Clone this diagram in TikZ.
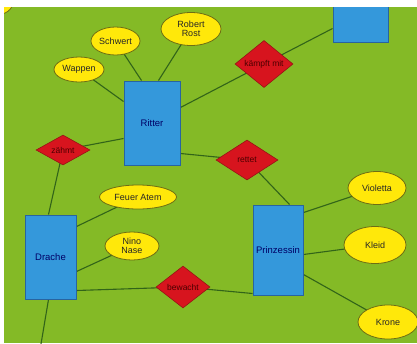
\documentclass[tikz,border=0pt]{standalone}
\usepackage{fontspec}
\setmainfont{Liberation Sans}
\usetikzlibrary{shapes.geometric,calc}
\pgfdeclarelayer{bg}
\pgfdeclarelayer{edges}
\pgfsetlayers{bg,edges,main}
\definecolor{grass}{RGB}{132,186,38}
\definecolor{boxblue}{RGB}{52,152,219}
\definecolor{boxedge}{RGB}{40,100,160}
\definecolor{ellfill}{RGB}{255,232,10}
\definecolor{elledge}{RGB}{110,110,20}
\definecolor{relfill}{RGB}{215,20,30}
\definecolor{reledge}{RGB}{150,20,20}
\definecolor{linegreen}{RGB}{50,100,25}
\tikzset{
  entity/.style={draw=boxedge, fill=boxblue, line width=1pt, inner sep=0pt, font=\fontsize{9.5}{10}\selectfont, text=blue!40!black},
  attr/.style={ellipse, draw=elledge, fill=ellfill, line width=0.8pt, inner sep=0pt, align=center, font=\fontsize{9}{9.5}\selectfont, text=black!85},
  rel/.style={diamond, draw=reledge, fill=relfill, line width=0.6pt, inner sep=0pt, font=\fontsize{8.5}{9}\selectfont, text=red!30!black},
  conn/.style={draw=linegreen, line width=1.1pt}
}
\begin{document}
\begin{tikzpicture}[x=1pt,y=-1pt]
\useasboundingbox (0,0) rectangle (417,343);
\begin{pgfonlayer}{bg}
\fill[white] (0,0) rectangle (417,343);
\fill[grass] (4,7) rectangle (417,343);
\end{pgfonlayer}
\begin{scope}
\clip (4,7) rectangle (417,343);
% entities
\node[entity, minimum width=56pt, minimum height=84pt] (Ritter) at (152,123) {Ritter};
\node[entity, minimum width=55pt, minimum height=52pt] (tr) at (360.5,16) {};
\node[entity, minimum width=50pt, minimum height=90pt] (Prinz) at (278,250) {Prinzessin};
\node[entity, minimum width=51pt, minimum height=84pt] (Drache) at (50.5,257) {Drache};
% attributes
\node[attr, minimum width=34pt, minimum height=26pt] (blob) at (-4,2) {};
\node[attr, minimum width=50pt, minimum height=25pt] (Wappen) at (79,69.5) {Wappen};
\node[attr, minimum width=49pt, minimum height=28pt] (Schwert) at (115.5,41) {Schwert};
\node[attr, minimum width=60pt, minimum height=33pt] (Robert) at (191,29) {Robert\\Rost};
\node[attr, minimum width=58pt, minimum height=33pt] (Violetta) at (377,188) {Violetta};
\node[attr, minimum width=62pt, minimum height=37pt] (Kleid) at (375,245) {Kleid};
\node[attr, minimum width=60pt, minimum height=34pt] (Krone) at (388,322) {Krone};
\node[attr, minimum width=77pt, minimum height=24pt] (Feuer) at (138,197) {Feuer Atem};
\node[attr, minimum width=54pt, minimum height=28pt] (Nino) at (132,246) {Nino\\Nase};
% relations
\node[rel, minimum width=54pt, minimum height=30pt] (zaehmt) at (63,150) {zähmt};
\node[rel, minimum width=58pt, minimum height=35pt] (kaempft) at (264,64) {kämpft mit};
\node[rel, minimum width=62pt, minimum height=40pt] (rettet) at (247,160) {rettet};
\node[rel, minimum width=54pt, minimum height=42pt] (bewacht) at (183,287) {bewacht};
\coordinate (down) at (40,350);
\begin{pgfonlayer}{edges}
\path[conn] (Wappen.center) -- ($(Ritter.north west)+(0,21)$);
\path[conn] (Schwert.center) -- ($(Ritter.north west)+(18,0)$);
\path[conn] (Robert.center) -- ($(Ritter.north west)+(35,0)$);
\path[conn] ($(Ritter.north east)+(0,27)$) -- (kaempft.center) -- ($(tr.south west)+(0,-14)$);
\path[conn] (zaehmt.center) -- ($(Ritter.south west)+(0,-27)$);
\path[conn] (zaehmt.center) -- ($(Drache.north west)+(24,0)$);
\path[conn] ($(Drache.south west)+(24,0)$) -- (down);
\path[conn] ($(Drache.north east)+(0,12)$) -- (Feuer.center);
\path[conn] ($(Drache.north east)+(0,57)$) -- (Nino.center);
\path[conn] ($(Drache.south east)+(0,-9)$) -- (bewacht.center) -- ($(Prinz.south west)+(0,-2)$);
\path[conn] ($(Ritter.south east)+(0,-12)$) -- (rettet.center) -- ($(Prinz.north west)+(37,0)$);
\path[conn] ($(Prinz.north east)+(0,8)$) -- (Violetta.center);
\path[conn] ($(Prinz.north east)+(0,50)$) -- (Kleid.center);
\path[conn] ($(Prinz.north east)+(0,70)$) -- (Krone.center);
\end{pgfonlayer}
\end{scope}
\end{tikzpicture}
\end{document}
